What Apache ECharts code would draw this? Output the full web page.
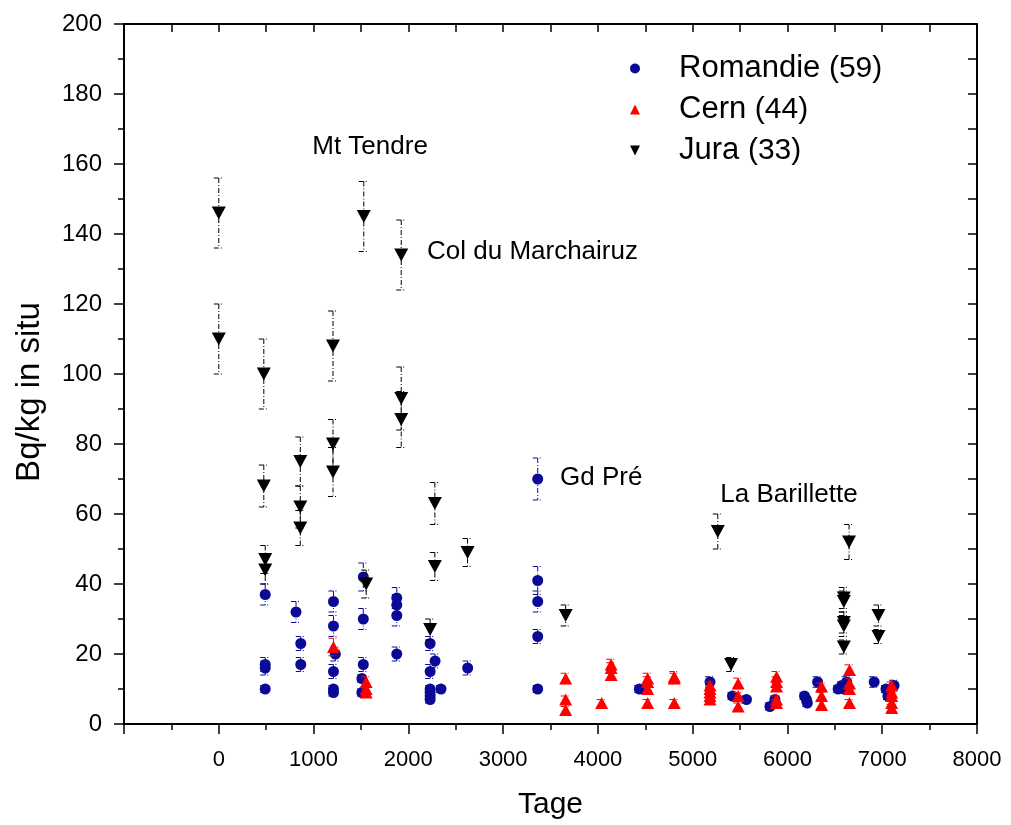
<!DOCTYPE html>
<html>
<head>
<meta charset="utf-8">
<script src="https://cdn.jsdelivr.net/npm/echarts@6/dist/echarts.min.js"></script>
<style>html,body{margin:0;padding:0;background:#fff}#c{width:1011px;height:825px}</style>
</head>
<body>
<div id="c"></div>
<script>
// [Tage, Bq/kg, error]
const romandie = [
 [490,37,3],[490,17,2],[490,16,2],[490,10,1],
 [815,32,3],[865,23,2],[865,17,2],
 [1210,35,3],[1210,28,3],[1230,20,2],[1210,15,2],[1210,10,1],[1210,9,1],
 [1525,42,4],[1525,30,3],[1525,17,2],[1510,13,1],[1510,9,1],
 [1878,36,3],[1878,34,3],[1878,31,3],[1878,20,2],
 [2230,23,2],[2282,18,2],[2230,15,2],[2230,10,1],[2230,9,1],[2230,8,1],[2230,7,1],[2345,10,1],
 [2626,16,2],
 [3365,70,6],[3365,41,4],[3365,35,3],[3365,25,2],[3365,10,1],
 [4437,10,1],
 [5183,12,1.5],[5420,8,1],[5568,7,1],[5815,5,1],[5868,7,1],
 [6180,8,1],[6200,7,1],[6210,6,1],[6318,12,1.5],
 [6535,10,1],[6575,11,1],[6600,10,1],[6625,12,1.5],
 [6915,12,1.5],[7040,10,1],[7060,8,1],[7080,9,1],[7125,11,1.5]
];
const cern = [
 [1210,22,2.5],
 [1555,12,1.5],[1555,10,1],[1555,9,1],
 [3660,13,1.5],[3660,7,1],[3660,4,1],
 [4040,6,1],
 [4140,17,1.5],[4140,16,1.5],[4140,14,1.5],
 [4525,13,1.5],[4525,12,1.5],[4525,10,1],[4525,6,1],
 [4806,13,1.5],[4806,13.5,1.5],[4806,6,1],
 [5183,11,1],[5183,10,1],[5183,9,1],[5183,8,1],[5183,7,1],
 [5480,11.6,1.5],[5480,8,1],[5480,5,1],
 [5885,13.5,1.5],[5885,12,1.5],[5885,10.7,1],[5885,7,1],[5885,6,1],
 [6360,10.7,1],[6360,8,1],[6360,5.4,1],
 [6655,15.4,1.5],[6655,11.6,1.5],[6655,10,1],[6655,6,1],
 [7100,11,1],[7100,9,1],[7100,8,1],[7100,6,1],[7100,4.6,1]
];
const jura = [
 [0,146,10],[0,110,10],[475,100,10],[475,68,6],[490,47,4],[490,44,4],
 [860,75,7],[860,62,6],[860,56,5],
 [1205,108,10],[1205,80,7],[1205,72,7],
 [1530,145,10],[1555,40,4],
 [1925,134,10],[1925,93,9],[1925,87,8],
 [2230,27,3],[2280,63,6],[2280,45,4],[2625,49,4],
 [3660,31,3],
 [5265,55,5],[5405,17,2],
 [6595,36,3],[6595,35,3],[6595,29,3],[6595,28,3],[6595,22,2],[6650,52,5],
 [6960,31,3],[6960,25,2]
];
const seriesNames = ['Romandie','Cern','Jura'];
const legendCounts = [59,44,33];
const annotationX = [1596, 2197, 3601, 5292];
const annotationY = [165, 135, 70.3, 65.4];
const annotationText = ['Mt Tendre','Col du Marchairuz','Gd Pré','La Barillette'];
const annotationAlign = ['center','left','left','left'];
const xTicks = {min:-1000, max:8000, interval:1000};
const yTicks = {min:0, max:200, interval:20};

const FONT = "'Liberation Sans', Arial, sans-serif";
const BLUE = '#0a0a96', RED = '#ff0000', BLACK = '#000000';

function errRender(color, capHalf){
  return function(params, api){
    const x = api.value(0), y = api.value(1), e = api.value(2);
    const top = api.coord([x, y + e]);
    const bot = api.coord([x, y - e]);
    const style = {stroke: color, lineWidth: 1, lineDash: [5,2,1,2], fill: null};
    return {type:'group', children:[
      {type:'line', shape:{x1:top[0], y1:top[1], x2:bot[0], y2:bot[1]}, style: style},
      {type:'line', shape:{x1:top[0]-capHalf, y1:top[1], x2:top[0]+capHalf, y2:top[1]}, style: style},
      {type:'line', shape:{x1:bot[0]-capHalf, y1:bot[1], x2:bot[0]+capHalf, y2:bot[1]}, style: style}
    ]};
  };
}

const chart = echarts.init(document.getElementById('c'), null, {renderer:'canvas'});
const countMap = {};
seriesNames.forEach((n,i)=>countMap[n]=legendCounts[i]);

chart.setOption({
  animation:false,
  backgroundColor:'#fff',
  textStyle:{fontFamily:FONT},
  grid:{left:124, right:34, top:24, bottom:101, containLabel:false, outerBoundsMode:'none'},
  legend:{
    data:[
      {name:'Romandie', icon:'circle'},
      {name:'Cern', icon:'path://M5,0L10,10L0,10Z'},
      {name:'Jura', icon:'path://M0,0L10,0L5,10Z'}
    ],
    orient:'vertical', left:625, top:48,
    itemWidth:78, itemHeight:10, itemGap:10,
    formatter: n => `{a|${n} }{b|(${countMap[n]})}`,
    textStyle:{color:'#000', lineHeight:30, rich:{
      a:{fontSize:31, fontFamily:FONT, color:'#000'},
      b:{fontSize:30, fontFamily:FONT, color:'#000'}
    }}
  },
  xAxis:[{
    type:'value', min:xTicks.min, max:xTicks.max, interval:xTicks.interval,
    position:'bottom',
    axisLine:{show:true, onZero:false, lineStyle:{color:'#000', width:2}},
    axisTick:{show:true, inside:false, length:10, lineStyle:{color:'#000', width:1.5}},
    minorTick:{show:true, splitNumber:2, length:6, lineStyle:{color:'#000', width:1.5}},
    axisLabel:{color:'#000', fontSize:22, fontFamily:FONT, margin:25,
      formatter: v => v < 0 ? '' : String(v)},
    splitLine:{show:false},
    name:'Tage', nameLocation:'middle', nameGap:66,
    nameTextStyle:{fontSize:30, color:'#000', fontFamily:FONT}
  },{
    type:'value', min:xTicks.min, max:xTicks.max, interval:xTicks.interval/2,
    position:'top',
    axisLine:{show:true, onZero:false, lineStyle:{color:'#000', width:2}},
    axisTick:{show:true, inside:true, length:8, lineStyle:{color:'#000', width:1.5}},
    axisLabel:{show:false}, splitLine:{show:false}
  }],
  yAxis:[{
    type:'value', min:yTicks.min, max:yTicks.max, interval:yTicks.interval,
    position:'left',
    axisLine:{show:true, onZero:false, lineStyle:{color:'#000', width:2}},
    axisTick:{show:true, inside:false, length:10, lineStyle:{color:'#000', width:1.5}},
    minorTick:{show:true, splitNumber:2, length:6, lineStyle:{color:'#000', width:1.5}},
    axisLabel:{color:'#000', fontSize:24, fontFamily:FONT, margin:22},
    splitLine:{show:false},
    name:'Bq/kg in situ', nameLocation:'middle', nameGap:78, nameRotate:90,
    nameTextStyle:{fontSize:33, color:'#000', fontFamily:FONT, padding:[0,36,0,0]}
  },{
    type:'value', min:yTicks.min, max:yTicks.max, interval:yTicks.interval/2,
    position:'right',
    axisLine:{show:true, onZero:false, lineStyle:{color:'#000', width:2}},
    axisTick:{show:true, inside:true, length:9, lineStyle:{color:'#000', width:1.5}},
    axisLabel:{show:false}, splitLine:{show:false}
  }],
  series:[
    {type:'custom', name:'Romandie err', renderItem: errRender(BLUE,5), data: romandie,
      encode:{x:0,y:1}, silent:true, z:2},
    {type:'scatter', name:'Romandie', data: romandie, symbol:'circle', symbolSize:11,
      itemStyle:{color:BLUE, opacity:1}, z:3},
    {type:'custom', name:'Cern err', renderItem: errRender(RED,5), data: cern,
      encode:{x:0,y:1}, silent:true, z:4},
    {type:'scatter', name:'Cern', data: cern, symbol:'triangle', symbolSize:[13,12],
      itemStyle:{color:RED, opacity:1}, z:5},
    {type:'custom', name:'Jura err', renderItem: errRender(BLACK,5), data: jura,
      encode:{x:0,y:1}, silent:true, z:6},
    {type:'scatter', name:'Jura', data: jura, symbol:'triangle', symbolRotate:180, symbolSize:[14,13],
      itemStyle:{color:BLACK, opacity:1}, z:7},
    {type:'custom', name:'annotations', silent:true, z:8,
      data: annotationX.map((x,i)=>[x, annotationY[i], i]),
      encode:{x:0,y:1},
      renderItem: function(params, api){
        const i = api.value(2);
        const p = api.coord([api.value(0), api.value(1)]);
        return {type:'text', x:p[0], y:p[1], style:{
          text: annotationText[i], fill:'#000', fontSize:26, fontFamily:FONT,
          align: annotationAlign[i], verticalAlign:'middle'}};
      }}
  ]
});
</script>
</body>
</html>
